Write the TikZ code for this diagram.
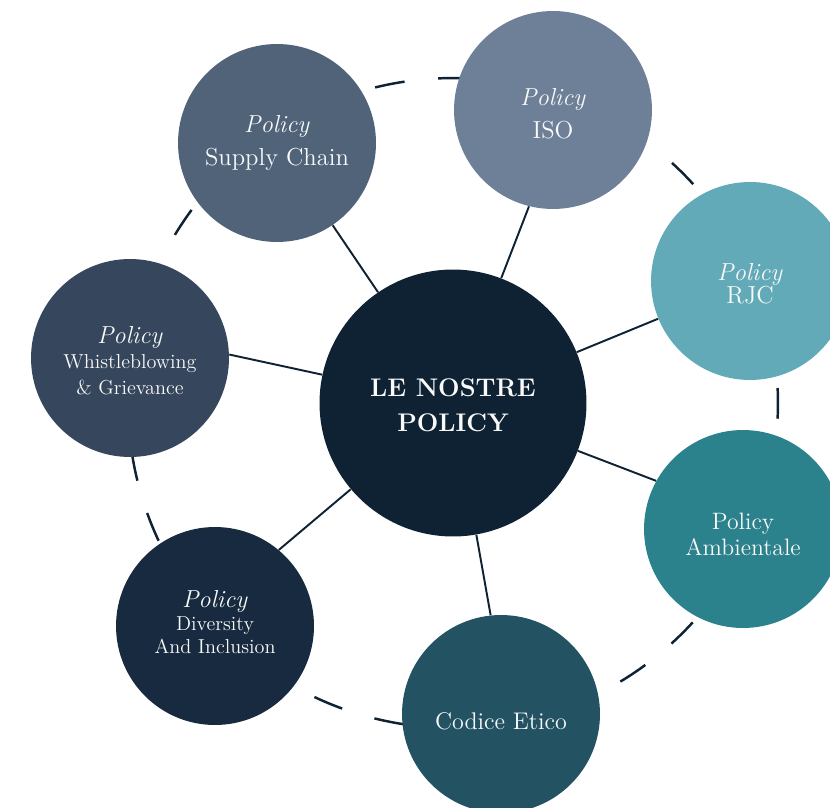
\documentclass[tikz,border=0pt]{standalone}
\usepackage{tikz}
\usepackage{xcolor}
\definecolor{HubNavy}{RGB}{15,34,51}
\definecolor{SupplySlate}{RGB}{80,99,121}
\definecolor{IsoGrey}{RGB}{110,128,152}
\definecolor{RjcTeal}{RGB}{98,170,184}
\definecolor{EnvTeal}{RGB}{43,129,140}
\definecolor{EthicsTeal}{RGB}{35,83,99}
\definecolor{DiversityNavy}{RGB}{23,42,63}
\definecolor{WhistleSlate}{RGB}{54,71,93}

\begin{document}
\begin{tikzpicture}[x=0.02cm, y=-0.02cm,
    policy/.style={circle, minimum size=3.96cm, inner sep=0pt, text=white!95!gray, align=center, font=\fontsize{14}{19}\selectfont},
    small/.style={font=\fontsize{11.5}{14.5}\selectfont},
    spoke/.style={HubNavy, line width=1.1pt}]
            \useasboundingbox (0,0) rectangle (830,807);

            % Orbit
            \draw[HubNavy, line width=1.4pt, dash pattern=on 0.6cm off 0.676cm, dash phase=0.3cm] (453,403) circle[radius=6.5cm];

            % Hub
            \node[circle, minimum size=5.34cm, inner sep=0pt, fill=HubNavy, text=white!95!gray, align=center, font=\fontsize{14.5}{20}\selectfont\bfseries] (hub) at (453,403) {\\[-7.5pt]LE NOSTRE\\POLICY};

            % Policies
            \node[policy, fill=SupplySlate] (supply) at (277,143) {\textit{Policy}\\Supply Chain};
            \node[policy, fill=IsoGrey] (iso) at (553,110) {\\[-4.8pt]\textit{Policy}\\ISO};
            \node[policy, fill=RjcTeal, font=\fontsize{14}{13}\selectfont] (rjc) at (750,281) {\\[0pt]\textit{Policy}\\RJC};
            \node[policy, fill=EnvTeal, font=\fontsize{13.5}{15}\selectfont] (env) at (743,529) {\\[0.7pt]Policy\\Ambientale};
            \node[policy, fill=EthicsTeal, font=\fontsize{13.7}{16}\selectfont] (ethics) at (501,714) {\\[1.4pt]Codice Etico};
            \node[policy, fill=DiversityNavy, font=\fontsize{11.5}{13.3}\selectfont] (diversity) at (215,626) {\\[-8.1pt]{\fontsize{14}{14}\selectfont\textit{Policy}}\\Diversity\\And Inclusion};
            \node[policy, fill=WhistleSlate, small] (whistle) at (130,358) {\\[-2pt]{\fontsize{14}{14}\selectfont\textit{Policy}}\\Whistleblowing\\\& Grievance};

            % Spokes
            \draw[spoke] (hub) -- (supply);
            \draw[spoke] (hub) -- (iso.-104);
            \draw[spoke] (hub) -- (rjc);
            \draw[spoke] (hub) -- (env.151);
            \draw[spoke] (hub) -- (ethics.96);
            \draw[spoke] (hub) -- (diversity.50);
            \draw[spoke] (hub) -- (whistle.2);
        \end{tikzpicture}
\end{document}
